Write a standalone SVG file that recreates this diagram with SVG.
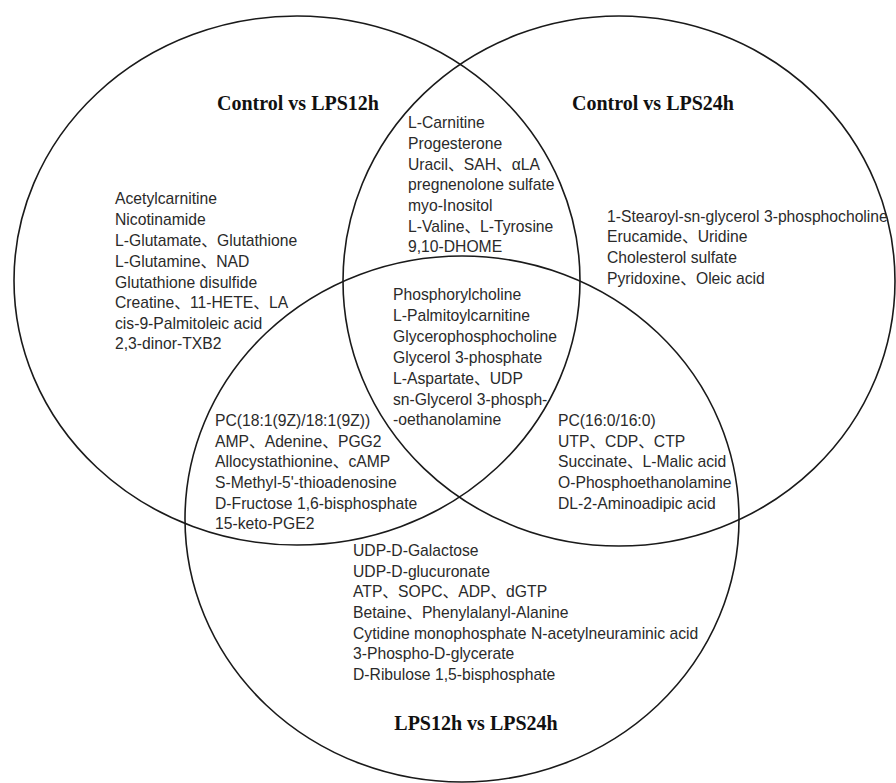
<svg xmlns="http://www.w3.org/2000/svg" width="896" height="783" viewBox="0 0 896 783">
<style>
.set{fill:none;stroke:#1a1a1a;stroke-width:1.6}
.title{font-family:"Liberation Serif","Times New Roman",serif;font-weight:bold;font-size:20px;fill:#111}
.lbl{font-family:"Liberation Sans",Arial,"Noto Sans CJK SC",sans-serif;font-size:15.7px;fill:#2a2a2a}
</style>
<rect width="896" height="783" fill="#fff"/>
<g id="set-control-lps12h">
<ellipse class="set" cx="297" cy="280.5" rx="283" ry="264.5"/>
<text class="title" x="298" y="110" text-anchor="middle">Control vs LPS12h</text>
</g>
<g id="set-control-lps24h">
<ellipse class="set" cx="619" cy="281" rx="276" ry="265"/>
<text class="title" x="653" y="110" text-anchor="middle">Control vs LPS24h</text>
</g>
<g id="set-lps12h-lps24h">
<ellipse class="set" cx="462" cy="519" rx="277" ry="263"/>
<text class="title" x="476" y="730" text-anchor="middle">LPS12h vs LPS24h</text>
</g>
<g id="connectors"></g>
<g id="region-12h-only" class="lbl">
<text x="115" y="204.3">Acetylcarnitine</text>
<text x="115" y="225">Nicotinamide</text>
<text x="115" y="245.7">L-Glutamate、Glutathione</text>
<text x="115" y="266.7">L-Glutamine、NAD</text>
<text x="115" y="287.7">Glutathione disulfide</text>
<text x="115" y="308.3">Creatine、11-HETE、LA</text>
<text x="115" y="329">cis-9-Palmitoleic acid</text>
<text x="115" y="349.3">2,3-dinor-TXB2</text>
</g>
<g id="region-12h-24h" class="lbl">
<text x="408" y="128.3">L-Carnitine</text>
<text x="408" y="149">Progesterone</text>
<text x="408" y="170">Uracil、SAH、αLA</text>
<text x="408" y="190">pregnenolone sulfate</text>
<text x="408" y="211">myo-Inositol</text>
<text x="408" y="231.7">L-Valine、L-Tyrosine</text>
<text x="408" y="252.3">9,10-DHOME</text>
</g>
<g id="region-24h-only" class="lbl">
<text x="607" y="221.7">1-Stearoyl-sn-glycerol 3-phosphocholine</text>
<text x="607" y="242.3">Erucamide、Uridine</text>
<text x="607" y="263.3">Cholesterol sulfate</text>
<text x="607" y="284">Pyridoxine、Oleic acid</text>
</g>
<g id="region-all" class="lbl">
<text x="393" y="300">Phosphorylcholine</text>
<text x="393" y="320.9">L-Palmitoylcarnitine</text>
<text x="393" y="341.8">Glycerophosphocholine</text>
<text x="393" y="362.7">Glycerol 3-phosphate</text>
<text x="393" y="383.6">L-Aspartate、UDP</text>
<text x="393" y="404.5">sn-Glycerol 3-phosph-</text>
<text x="393" y="425.4">-oethanolamine</text>
</g>
<g id="region-12h-lps" class="lbl">
<text x="215" y="426">PC(18:1(9Z)/18:1(9Z))</text>
<text x="215" y="446.7">AMP、Adenine、PGG2</text>
<text x="215" y="467.3">Allocystathionine、cAMP</text>
<text x="215" y="488">S-Methyl-5'-thioadenosine</text>
<text x="215" y="508.7">D-Fructose 1,6-bisphosphate</text>
<text x="215" y="529.3">15-keto-PGE2</text>
</g>
<g id="region-24h-lps" class="lbl">
<text x="558" y="426">PC(16:0/16:0)</text>
<text x="558" y="446.7">UTP、CDP、CTP</text>
<text x="558" y="467.3">Succinate、L-Malic acid</text>
<text x="558" y="488">O-Phosphoethanolamine</text>
<text x="558" y="508.7">DL-2-Aminoadipic acid</text>
</g>
<g id="region-lps-only" class="lbl">
<text x="353" y="556">UDP-D-Galactose</text>
<text x="353" y="576.7">UDP-D-glucuronate</text>
<text x="353" y="597.3">ATP、SOPC、ADP、dGTP</text>
<text x="353" y="618">Betaine、Phenylalanyl-Alanine</text>
<text x="353" y="638.7">Cytidine monophosphate N-acetylneuraminic acid</text>
<text x="353" y="659.3">3-Phospho-D-glycerate</text>
<text x="353" y="680">D-Ribulose 1,5-bisphosphate</text>
</g>
</svg>
